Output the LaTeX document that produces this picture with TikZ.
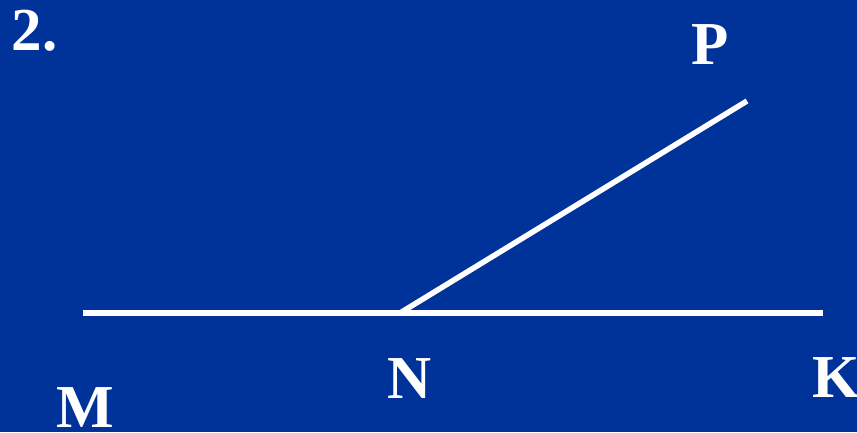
\documentclass[tikz,border=0pt]{standalone}
\usepackage{fontspec}
\setmainfont{Liberation Serif}
\definecolor{bgblue}{RGB}{0,51,153}
\tikzset{
  lbl/.style={text=white, inner sep=0pt, outer sep=0pt, anchor=base west, font=\fontsize{61}{61}\selectfont\bfseries},
  seg/.style={draw=white, line width=5.5pt, line cap=butt}
}
\begin{document}
\begin{tikzpicture}[x=1pt,y=-1pt]
\fill[bgblue] (0,0) rectangle (857,432);
\useasboundingbox (0,0) rectangle (857,432);
\node[lbl] (num) at (12,50) {2.};
\node[lbl] (lP) at (691,64) {P};
\node[lbl] (lM) at (56,427) {M};
\node[lbl] (lN) at (387,398) {N};
\node[lbl] (lK) at (812,397) {K};
\coordinate (M) at (83,313);
\coordinate (K) at (823,313);
\coordinate (N) at (400,313);
\coordinate (P) at (747,101);
\draw[seg] (M) -- (K);
\draw[seg] (N) -- (P);
\end{tikzpicture}
\end{document}
